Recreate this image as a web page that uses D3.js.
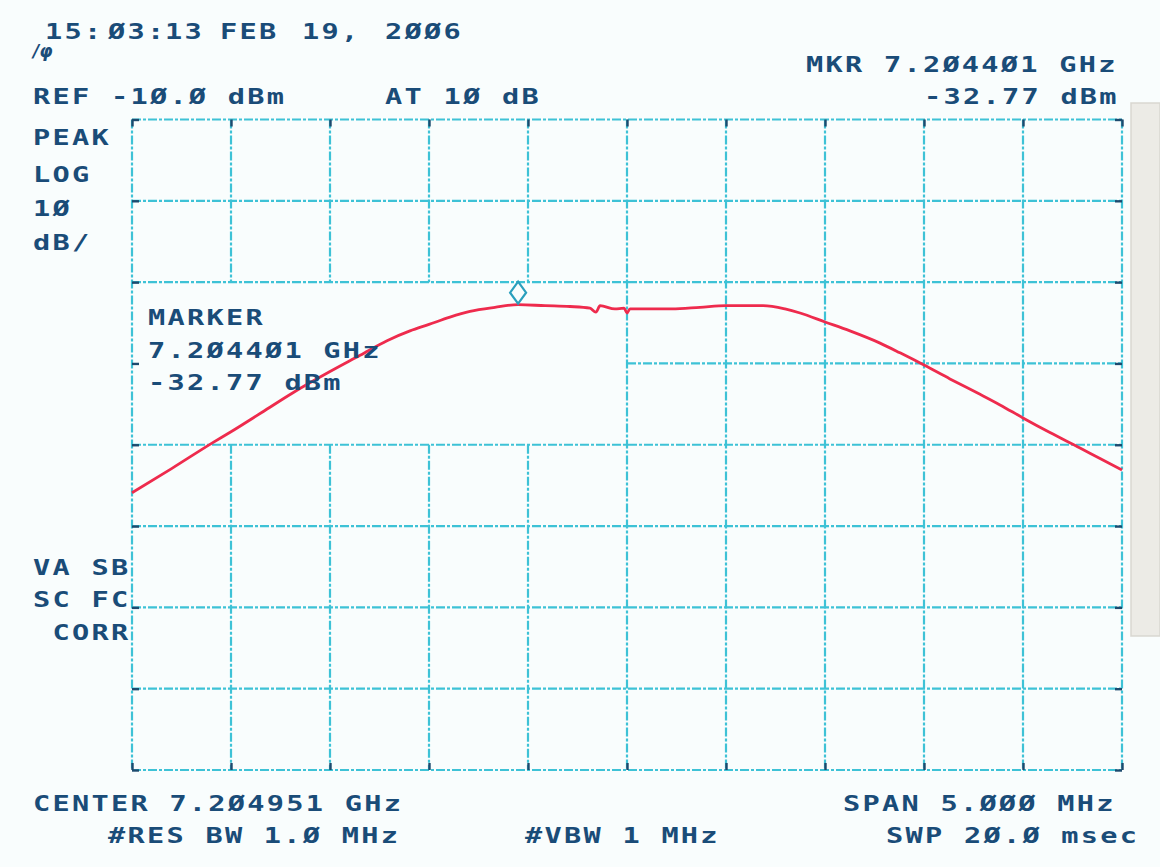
<!DOCTYPE html>
<html>
<head>
<meta charset="utf-8">
<script src="https://cdn.jsdelivr.net/npm/d3@7"></script>
<style>
  html,body{margin:0;padding:0;background:#f9fdfd;}
  svg{display:block;}
  .lbl{font-family:"DejaVu Sans Mono",monospace;font-weight:bold;font-size:22px;letter-spacing:1.75px;fill:#1a4c78;}
</style>
</head>
<body>
<svg id="chart" width="1160" height="867"></svg>
<script>
// ---- data ----
const centerGHz = 7.204951;
const spanGHz = 0.005;
const refLevel = -10;
const dbPerDiv = 10;
const xDivisions = 10;
const yDivisions = 8;

const traceFreqGHz = [7.202451, 7.202653, 7.202855, 7.202951, 7.203108, 7.203264, 7.203451, 7.203603,
  7.203739, 7.203855, 7.203951, 7.204057, 7.204158, 7.204284, 7.204401, 7.204537, 7.204663, 7.204764,
  7.204794, 7.204815, 7.204890, 7.204936, 7.204951, 7.204966, 7.205067, 7.205178, 7.205320, 7.205451,
  7.205638, 7.205749, 7.205825, 7.205951, 7.206077, 7.206229, 7.206330, 7.206451, 7.206582, 7.206734,
  7.206835, 7.206951, 7.207087, 7.207239, 7.207340, 7.207451];
const traceDbm = [-55.9, -52.9, -49.8, -48.4, -46.0, -43.6, -41.0, -39.0,
  -37.2, -36.0, -35.2, -34.3, -33.6, -33.1, -32.77, -32.9, -33.0, -33.2,
  -33.7, -32.9, -33.3, -33.2, -33.8, -33.3, -33.3, -33.3, -33.1, -32.9,
  -32.9, -33.3, -33.8, -34.9, -36.0, -37.5, -38.7, -40.2, -41.9, -43.8,
  -45.1, -46.7, -48.5, -50.4, -51.7, -53.1];

const markerFreqGHz = 7.204401;
const markerDbm = -32.77;

const dateTokens = ["15:", "Ø3:", "13", "FEB", "19,", "2ØØ6"];
const headerLeft = ["REF -1Ø.Ø dBm", "AT 1Ø dB"];
const headerRight = ["MKR 7.2Ø44Ø1 GHz", "-32.77 dBm"];
const sideTop = ["PEAK", "LOG", "1Ø", "dB/"];
const sideBottom = ["VA SB", "SC FC", " CORR"];
const markerLines = ["MARKER", "7.2Ø44Ø1 GHz", "-32.77 dBm"];
const footerLines = ["CENTER 7.2Ø4951 GHz", "SPAN 5.ØØØ MHz", "#RES BW 1.Ø MHz", "#VBW 1 MHz", "SWP 2Ø.Ø msec"];

// ---- layout ----
const svg = d3.select("#chart");
const L = 132, R = 1122, T = 119.5, B = 770;
const x = d3.scaleLinear().domain([centerGHz - spanGHz/2, centerGHz + spanGHz/2]).range([L, R]);
const y = d3.scaleLinear().domain([refLevel, refLevel - dbPerDiv*yDivisions]).range([T, B]);

const xTicks = d3.range(xDivisions + 1).map(i => centerGHz - spanGHz/2 + i*spanGHz/xDivisions);
const yTicks = d3.range(yDivisions + 1).map(i => refLevel - i*dbPerDiv);

svg.append("rect").attr("width",1160).attr("height",867).attr("fill","#f9fdfd");
// paper edge artefact on the right
svg.append("rect").attr("x",1131).attr("y",103).attr("width",29).attr("height",533)
  .attr("fill","#ecebe6").attr("stroke","#d9d7d1").attr("stroke-width",1.5);

const gridColor = "#3ec2d6";
const grid = svg.append("g").attr("stroke", gridColor).attr("stroke-width", 2.2)
  .attr("stroke-dasharray","9 2 3 2").attr("fill","none");

// cleared annotation box (marker readout)
const boxX1 = x(centerGHz), boxY0 = y(yTicks[2]), boxY1 = y(yTicks[4]);

xTicks.forEach((f, i) => {
  const px = x(f);
  if (i > 0 && i < xDivisions && px < boxX1 - 1) {
    grid.append("line").attr("x1",px).attr("x2",px).attr("y1",T).attr("y2",boxY0);
    grid.append("line").attr("x1",px).attr("x2",px).attr("y1",boxY1).attr("y2",B);
  } else {
    grid.append("line").attr("x1",px).attr("x2",px).attr("y1",T).attr("y2",B);
  }
});
yTicks.forEach((d, i) => {
  const py = y(d);
  if (i === 3) {
    grid.append("line").attr("x1",boxX1).attr("x2",R).attr("y1",py).attr("y2",py);
  } else {
    grid.append("line").attr("x1",L).attr("x2",R).attr("y1",py).attr("y2",py);
  }
});

// dark graticule tick marks on the borders, via d3 axes
const tickColor = "#1d4a6e";
function tickAxis(axis, tx, ty){
  const g = svg.append("g").attr("transform",`translate(${tx},${ty})`).call(axis);
  g.select(".domain").remove();
  g.selectAll(".tick line").attr("stroke",tickColor).attr("stroke-width",2.4);
  g.selectAll(".tick text").remove();
}
tickAxis(d3.axisTop(x).tickValues(xTicks).tickSize(-7).tickFormat(""), 0, T);
tickAxis(d3.axisBottom(x).tickValues(xTicks).tickSize(-7).tickFormat(""), 0, B);
tickAxis(d3.axisLeft(y).tickValues(yTicks).tickSize(-7).tickFormat(""), L, 0);
tickAxis(d3.axisRight(y).tickValues(yTicks).tickSize(-7).tickFormat(""), R, 0);

// trace
const line = d3.line().x((d,i)=>x(traceFreqGHz[i])).y(d=>y(d)).curve(d3.curveMonotoneX);
svg.append("path").datum(traceDbm).attr("d", line).attr("fill","none")
  .attr("stroke","#ee2b4d").attr("stroke-width",2.8).attr("stroke-linejoin","round");

// marker diamond
const mx = x(markerFreqGHz), my = y(markerDbm);
svg.append("path")
  .attr("d", `M${mx},${my-1} L${mx+8},${my-12} L${mx},${my-23} L${mx-8},${my-12} Z`)
  .attr("fill","none").attr("stroke","#2a9fbd").attr("stroke-width",2.2);

// text helper: wide plotter-like lettering on a 19.5 px pitch
function txt(s, tx, ty){
  svg.append("text").attr("class","lbl")
    .attr("transform",`translate(${tx},${ty}) scale(1.3,1)`)
    .attr("x",0).attr("y",0).attr("xml:space","preserve").text(s);
}

// date line
const dateX = [45, 108, 165, 220, 302, 385];
dateTokens.forEach((s,i)=>txt(s, dateX[i], 39));
// hp logo
svg.append("text").attr("x",33).attr("y",57).attr("font-family","DejaVu Sans").attr("font-style","italic")
  .attr("font-weight","bold").attr("font-size",17).attr("fill","#1a4c78").text("/φ");

txt(headerLeft[0], 33, 104);
txt(headerLeft[1], 385, 104);
txt(headerRight[0], 806, 72);
txt(headerRight[1], 924, 104);

const sideTopY = [145, 182, 216, 250];
sideTop.forEach((s,i)=>txt(s, 33, sideTopY[i]));
const sideBotY = [575, 607, 640];
sideBottom.forEach((s,i)=>txt(s, 33, sideBotY[i]));
const markerY = [325, 358, 390];
markerLines.forEach((s,i)=>txt(s, 148, markerY[i]));

txt(footerLines[0], 33, 811);
txt(footerLines[1], 843, 811);
txt(footerLines[2], 108, 843);
txt(footerLines[3], 525, 843);
txt(footerLines[4], 886, 843);
</script>
</body>
</html>
